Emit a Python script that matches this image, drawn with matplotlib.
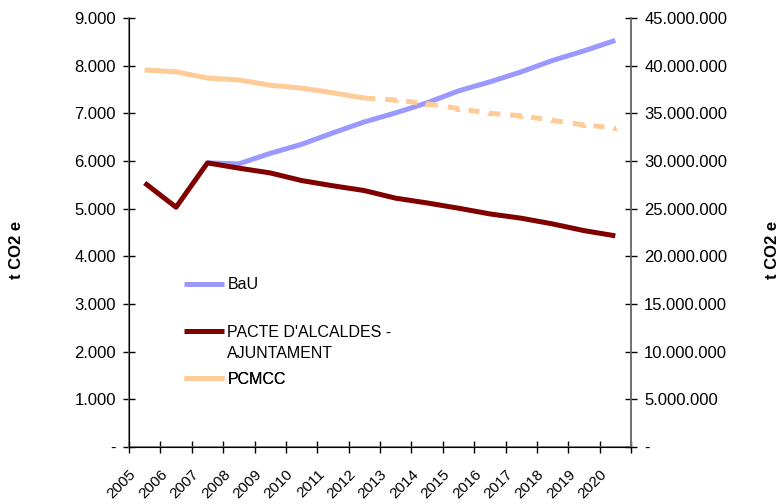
import numpy as np
import matplotlib
matplotlib.use('Agg')
import matplotlib.pyplot as plt
from matplotlib.lines import Line2D
from matplotlib.ticker import FuncFormatter

plt.rcParams['font.family'] = ['Liberation Sans', 'DejaVu Sans']

# Data (t CO2 e)
years = [2005, 2006, 2007, 2008, 2009, 2010, 2011, 2012,
         2013, 2014, 2015, 2016, 2017, 2018, 2019, 2020]
bau_years = years[2:]
bau = [5960, 5940, 6160, 6350, 6590, 6820, 7010, 7220,
       7470, 7660, 7870, 8110, 8310, 8530]
pacte = [5540, 5030, 5960, 5850, 5750, 5590, 5480, 5380,
         5220, 5120, 5010, 4890, 4800, 4680, 4540, 4430]
pcmcc = [7910, 7870, 7740, 7700, 7590, 7530, 7430, 7320,
         7280, 7200, 7100, 7000, 6950, 6850, 6760, 6690]
n_solid = 8   # PCMCC solid up to 2012, dashed afterwards

left_ticks = np.arange(0, 9001, 1000)
right_ticks = np.arange(0, 45000001, 5000000)

c_bau = '#9999ff'
c_pacte = '#800000'
c_pcmcc = '#ffcc99'


def dot_thousands(v, pos):
    if v == 0:
        return '-'
    return '{:,.0f}'.format(v).replace(',', '.')


fig = plt.figure(figsize=(7.82, 5.04), dpi=100)
ax = fig.add_axes([129/782, 1 - 447/504, 502/782, 429/504])

xi = np.arange(len(years))
xb = np.array([years.index(y) for y in bau_years])

lw = 3.6
l1, = ax.plot(xb, bau, color=c_bau, lw=lw, solid_capstyle='butt')
l2, = ax.plot(xi, pacte, color=c_pacte, lw=lw, solid_capstyle='butt')
l3, = ax.plot(xi[:n_solid], pcmcc[:n_solid], color=c_pcmcc, lw=lw,
              solid_capstyle='butt')
ax.plot(xi[n_solid - 1:], pcmcc[n_solid - 1:], color=c_pcmcc, lw=lw,
        dashes=(2.2, 2.0), dash_capstyle='butt',
        marker='^', markersize=5, markevery=list(range(1, 9)),
        markeredgewidth=0)

ax.set_xlim(-0.5, len(years) - 0.5)
ax.set_ylim(0, 9000)
ax.set_yticks(left_ticks)
ax.yaxis.set_major_formatter(FuncFormatter(dot_thousands))
ax.set_xticks(np.arange(len(years) + 1) - 0.5)
ax.set_xticklabels([str(y) for y in years] + [''], rotation=45,
                   ha='right', rotation_mode='anchor')

ax.spines['top'].set_visible(False)
for s in ['left', 'bottom', 'right']:
    ax.spines[s].set_color('#707070')
    ax.spines[s].set_linewidth(1.2)
ax.tick_params(axis='y', direction='inout', length=9, width=1,
               labelsize=12, pad=5, colors='black')
ax.tick_params(axis='x', direction='inout', length=9, width=1,
               labelsize=11, pad=10)
ax.set_ylabel('t CO2 e', fontsize=12, fontweight='bold')
ax.yaxis.set_label_coords(-0.209, 0.46)

ax2 = ax.twinx()
ax2.set_ylim(0, 45000000)
ax2.set_yticks(right_ticks)
ax2.yaxis.set_major_formatter(FuncFormatter(dot_thousands))
ax2.spines['top'].set_visible(False)
ax2.spines['right'].set_color('#707070')
ax2.spines['right'].set_linewidth(1.2)
ax2.tick_params(axis='y', direction='inout', length=9, width=1,
                labelsize=12, pad=5)
ax2.set_ylabel('t CO2 e', fontsize=12, fontweight='bold')
ax2.yaxis.set_label_coords(1.267, 0.46)

# legend entries, placed one by one like the original
blank = Line2D([], [], color='none')
entries = [(l1, 'BaU', 0.378),
           (l2, "PACTE D'ALCALDES -", 0.268),
           (blank, 'AJUNTAMENT', 0.217),
           (l3, 'PCMCC', 0.158)]
for h, lab, yy in entries:
    lg = ax2.legend([h], [lab], loc='center left', bbox_to_anchor=(0.11, yy),
                    frameon=False, fontsize=11.5, handlelength=2.5,
                    handletextpad=0.2, borderpad=0, borderaxespad=0)
    ax2.add_artist(lg)

fig.savefig('out.png', dpi=100)
